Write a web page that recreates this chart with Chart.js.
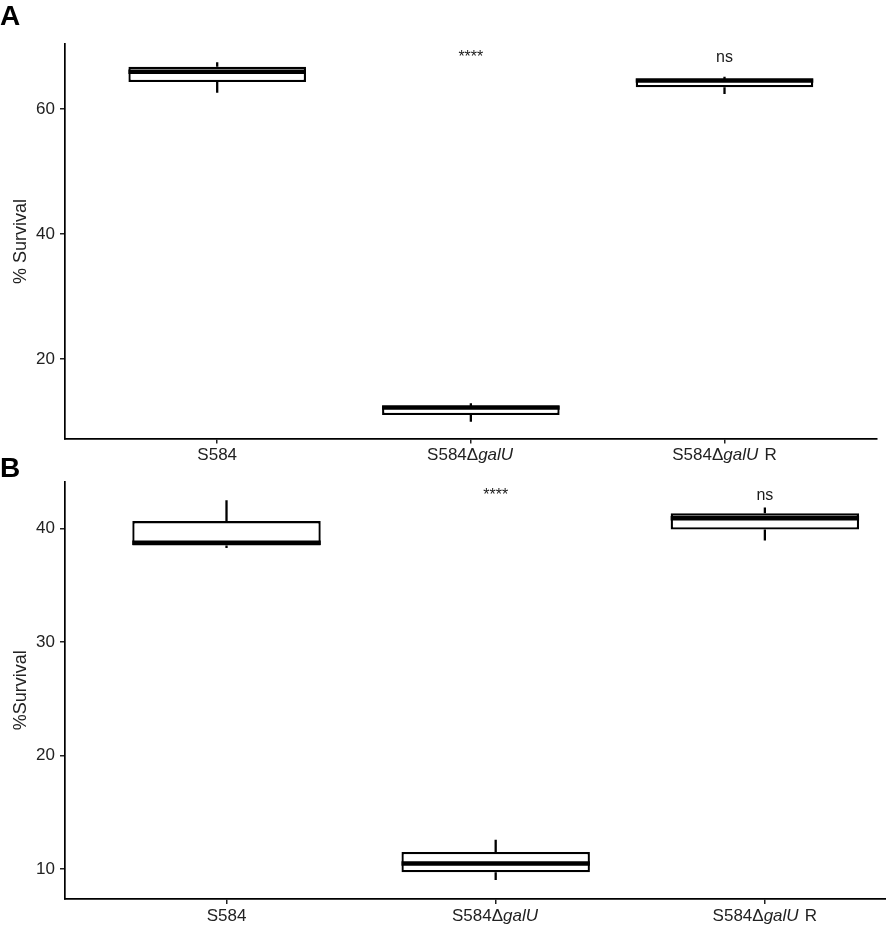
<!DOCTYPE html>
<html><head><meta charset="utf-8">
<script src="https://cdn.jsdelivr.net/npm/chart.js@4.4.1/dist/chart.umd.min.js"></script>
<style>
html,body{margin:0;padding:0;background:#fff;}
#wrap{position:relative;width:886px;height:932px;overflow:hidden;font-family:"Liberation Sans",Arial,sans-serif;background:#fff;}
canvas{position:absolute;left:0;}
.panel{position:absolute;left:0;font-weight:bold;font-size:28px;line-height:28px;color:#000;}
</style></head><body>
<div id="wrap">
<canvas id="cA" width="886" height="470" style="top:0px"></canvas>
<canvas id="cB" width="886" height="482" style="top:450px"></canvas>
<div class="panel" style="top:2px">A</div>
<div class="panel" style="top:454px">B</div>
</div>
<script>
// ---------- data ----------
const categories = ['S584', 'S584ΔgalU', 'S584ΔgalU R'];
const italicPart = 'galU';
const sigLabels = ['', '****', 'ns'];

// Panel A: % Survival
const minA = [62.6, 9.97, 62.4];
const q1A  = [64.32, 11.04, 63.47];
const medA = [65.95, 12.25, 64.56];
const q3A  = [66.77, 12.48, 64.8];
const maxA = [67.47, 12.9, 65.17];
const yTicksA = [20, 40, 60];
const sigYA = 67.5;

// Panel B: %Survival
const minB = [38.26, 9.03, 38.94];
const q1B  = [38.5, 9.71, 39.89];
const medB = [38.74, 10.47, 40.88];
const q3B  = [40.64, 11.5, 41.32];
const maxB = [42.47, 12.56, 41.83];
const yTicksB = [10, 20, 30, 40];
const sigYB = 42.5;

// ---------- style ----------
const FONT = "'Liberation Sans', Arial, sans-serif";
const BOX_W = 0.7;
Chart.defaults.font.family = FONT;

const annotPlugin = {
  id: 'annot',
  afterDraw(chart, args, opts) {
    const ctx = chart.ctx;
    const xs = chart.scales.x, ys = chart.scales.y;
    ctx.save();
    ctx.fillStyle = '#222';
    ctx.textBaseline = 'alphabetic';
    const base = xs.top + 21.5;
    categories.forEach((c, i) => {
      const parts = c.split(new RegExp('(' + italicPart + ')')).filter(s => s.length).map(s => [s, s === italicPart]);
      let total = 0;
      const widths = parts.map(([s, it]) => {
        ctx.font = (it ? 'italic ' : '') + '17px ' + FONT;
        const w = ctx.measureText(s).width + (it ? 1.5 : 0); total += w; return w;
      });
      let xp = xs.getPixelForValue(i + 1) - total / 2;
      parts.forEach(([s, it], k) => {
        ctx.font = (it ? 'italic ' : '') + '17px ' + FONT;
        ctx.textAlign = 'left';
        ctx.fillText(s, xp, base);
        xp += widths[k];
      });
    });
    ctx.fillStyle = '#1a1a1a';
    ctx.font = '16px ' + FONT;
    ctx.textAlign = 'center';
    sigLabels.forEach((s, i) => {
      if (!s) return;
      ctx.fillText(s, xs.getPixelForValue(i + 1), ys.getPixelForValue(opts.sigY));
    });
    ctx.restore();
  }
};

function makeChart(id, mins, q1, med, q3, maxs, yTicks, yMin, yMax, xMax, title, sigY, pad, xH) {
  const boxes = categories.map((c, i) => ({ x: i + 1, y: [q1[i], q3[i]] }));
  const medians = [];
  const whiskers = [];
  categories.forEach((c, i) => {
    const xv = i + 1;
    medians.push({ x: xv - BOX_W / 2, y: med[i] }, { x: xv + BOX_W / 2, y: med[i] }, { x: xv, y: null });
    whiskers.push({ x: xv, y: mins[i] }, { x: xv, y: q1[i] }, { x: xv, y: null },
                  { x: xv, y: q3[i] }, { x: xv, y: maxs[i] }, { x: xv, y: null });
  });
  return new Chart(document.getElementById(id), {
    type: 'bar',
    data: {
      datasets: [
        { type: 'line', data: medians, borderColor: '#000', borderWidth: 4.5, pointRadius: 0, spanGaps: false, order: 0, borderCapStyle: 'butt' },
        { type: 'bar', data: boxes, backgroundColor: '#fff', borderColor: '#000', borderWidth: 2.3, borderSkipped: false,
          barPercentage: BOX_W, categoryPercentage: 1, order: 1 },
        { type: 'line', data: whiskers, borderColor: '#000', borderWidth: 2.3, pointRadius: 0, spanGaps: false, order: 2 }
      ]
    },
    options: {
      responsive: false,
      animation: false,
      devicePixelRatio: 1,
      layout: { padding: pad },
      plugins: { legend: { display: false }, tooltip: { enabled: false }, annot: { sigY: sigY } },
      scales: {
        x: {
          type: 'linear', min: 0.4, max: xMax, offset: false,
          afterBuildTicks: s => { s.ticks = categories.map((c, i) => ({ value: i + 1 })); },
          afterFit: s => { s.height = xH; },
          ticks: { display: false },
          grid: { drawOnChartArea: false, drawTicks: true, tickLength: 5, color: '#222', lineWidth: 1.5, offset: false },
          border: { display: true, color: '#000', width: 1.7 }
        },
        y: {
          type: 'linear', min: yMin, max: yMax,
          afterBuildTicks: s => { s.ticks = yTicks.map(v => ({ value: v })); },
          afterFit: s => { s.width = 65; },
          ticks: { color: '#222', font: { size: 17 }, padding: 5 },
          grid: { drawOnChartArea: false, drawTicks: true, tickLength: 5, color: '#222', lineWidth: 1.5 },
          border: { display: true, color: '#000', width: 1.7 },
          title: { display: true, text: title, color: '#222', font: { size: 18 }, padding: { top: 10, bottom: 0 } }
        }
      }
    },
    plugins: [annotPlugin]
  });
}

makeChart('cA', minA, q1A, medA, q3A, maxA, yTicksA, 7.28, 70.35, 3.6, '% Survival', sigYA,
  { top: 44.3, right: 9.3, left: 0, bottom: 0 }, 31.5);
makeChart('cB', minB, q1B, medB, q3B, maxB, yTicksB, 7.35, 44.11, 3.45, '%Survival', sigYB,
  { top: 31.7, right: 0, left: 0, bottom: 0 }, 33);
</script>
</body></html>
